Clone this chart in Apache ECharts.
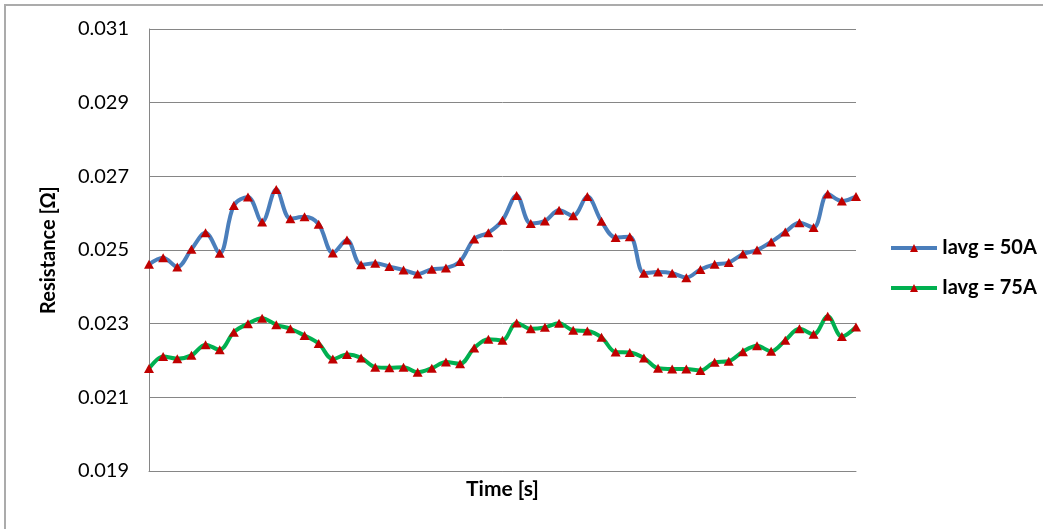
<!DOCTYPE html>
<html>
<head>
<meta charset="utf-8">
<script src="https://cdn.jsdelivr.net/npm/echarts@6/dist/echarts.min.js"></script>
<style>
html,body{margin:0;padding:0;background:#fff;}
#chart{width:1043px;height:529px;}
</style>
</head>
<body>
<div id="chart"></div>
<script>
var categories = [];
for (var i = 1; i <= 51; i++) categories.push(String(i));

var seriesNames = ['Iavg = 50A', 'Iavg = 75A'];

var iavg50 = [0.02461,0.02479,0.02454,0.02502,0.02547,0.02491,0.02621,0.02644,0.02576,0.02664,
0.02585,0.02590,0.02570,0.02492,0.02527,0.02460,0.02464,0.02455,0.02446,0.02435,
0.02448,0.02451,0.02469,0.02530,0.02547,0.02581,0.02648,0.02572,0.02579,0.02608,
0.02593,0.02645,0.02578,0.02534,0.02536,0.02437,0.02440,0.02437,0.02425,0.02447,
0.02461,0.02466,0.02489,0.02500,0.02522,0.02549,0.02574,0.02561,0.02652,0.02633,0.02645];

var iavg75 = [0.02178,0.02211,0.02205,0.02214,0.02243,0.02229,0.02277,0.02300,0.02315,0.02297,
0.02286,0.02268,0.02246,0.02204,0.02216,0.02207,0.02182,0.02180,0.02182,0.02168,
0.02179,0.02196,0.02191,0.02234,0.02258,0.02255,0.02302,0.02286,0.02290,0.02301,
0.02282,0.02280,0.02263,0.02223,0.02222,0.02207,0.02179,0.02177,0.02177,0.02173,
0.02195,0.02198,0.02224,0.02240,0.02225,0.02255,0.02286,0.02271,0.02320,0.02265,0.02291];

var yMin = 0.019, yMax = 0.031, yStep = 0.002;
var lineColors = ['#4A7EBB', '#00B050'];

var FONT = 'Lato';
var chart = echarts.init(document.getElementById('chart'), null, {renderer:'canvas'});
function mk(name, data, color){
  return {
    name: name, type: 'line', data: data, smooth: 0.35,
    symbol: 'triangle', symbolSize: [10, 9],
    itemStyle: {color: '#C00000'},
    lineStyle: {color: color, width: 4},
    emphasis: {disabled: true},
    animation: false
  };
}
chart.setOption({
  animation: false,
  backgroundColor: '#ffffff',
  graphic: [{
    type: 'rect', shape: {x: 5, y: 5, width: 1100, height: 600},
    style: {fill: 'none', stroke: '#ababab', lineWidth: 2}, silent: true, z: -1
  }],
  grid: {left: 149, right: 187, top: 29, bottom: 58, containLabel: false},
  legend: {
    orient: 'vertical', left: 889, top: 238, padding: 0,
    itemWidth: 46, itemHeight: 10, itemGap: 20,
    textStyle: {fontFamily: FONT, fontSize: 20, fontWeight: 'bold', color: '#000'},
    data: seriesNames.map(function(n, k){
      return {name: n, itemStyle: {color: '#C00000'}, lineStyle: {color: lineColors[k], width: 4}};
    })
  },
  xAxis: {
    type: 'category', data: categories, boundaryGap: false,
    axisLine: {lineStyle: {color: '#868686', width: 1}},
    axisTick: {show: false}, axisLabel: {show: false}, splitLine: {show: false},
    name: 'Time [s]', nameLocation: 'middle', nameGap: 8,
    nameTextStyle: {fontFamily: FONT, fontSize: 21, fontWeight: 'bold', color: '#000'}
  },
  yAxis: {
    type: 'value', min: yMin, max: yMax, interval: yStep,
    axisLine: {show: true, lineStyle: {color: '#868686', width: 1}},
    axisTick: {show: false},
    axisLabel: {margin: 20, fontFamily: FONT, fontSize: 20, color: '#000',
      formatter: function(v){ return v.toFixed(3); }},
    splitLine: {lineStyle: {color: '#868686', width: 1}},
    name: 'Resistance [\u03A9]', nameLocation: 'middle', nameGap: 90, nameRotate: 90,
    nameTextStyle: {fontFamily: FONT, fontSize: 20, fontWeight: 'bold', color: '#000'}
  },
  series: [mk(seriesNames[0], iavg50, lineColors[0]), mk(seriesNames[1], iavg75, lineColors[1])]
});
</script>
</body>
</html>
